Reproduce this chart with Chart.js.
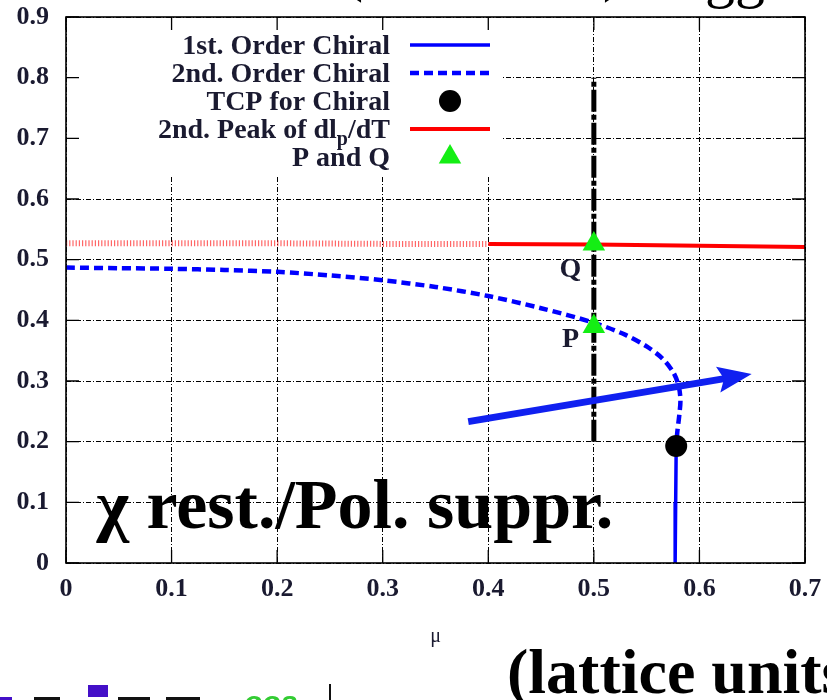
<!DOCTYPE html>
<html>
<head>
<meta charset="utf-8">
<script src="https://cdn.jsdelivr.net/npm/chart.js@4.4.1/dist/chart.umd.min.js"></script>
<style>
  html, body { margin: 0; padding: 0; background: #fff; overflow: hidden; }
  #wrap { position: relative; width: 827px; height: 700px; overflow: hidden; }
  #wrap canvas { position: absolute; left: 0; top: 0; }
  .frag { position: absolute; white-space: nowrap; }
  .title { font-family: 'Liberation Serif', serif; font-size: 60px; line-height: 60px; color: #000; }
</style>
</head>
<body>
<div id="wrap">
  <canvas id="phase" width="827" height="700"></canvas>
  <!-- slide title above the figure (only its lowest strokes fall inside the frame) -->
  <div class="frag title" style="left:172px; top:-61px; font-weight:bold;">Q</div>
  <div class="frag title" style="left:343px; top:-60px;">(</div>
  <div class="frag title" style="left:603px; top:-60px;">)</div>
  <div class="frag title" style="left:705px; top:-54px;">gg</div>
  <!-- slide footer -->
  <div class="frag" style="left:507px; top:640px; font:bold 64px 'Liberation Serif'; line-height:64px; color:#000;">(lattice units)</div>
  <!-- logo strip -->
  <div class="frag" style="left:88px; top:685px; width:20px; height:12px; background:#4410c8;"></div>
  <div class="frag" style="left:0px; top:697px; width:12px; height:6px; background:#4410c8;"></div>
  <div class="frag" style="left:34px; top:697px; width:26px; height:6px; background:#111;"></div>
  <div class="frag" style="left:118px; top:697px; width:32px; height:6px; background:#111;"></div>
  <div class="frag" style="left:166px; top:697px; width:34px; height:6px; background:#111;"></div>
  <div class="frag" style="left:244px; top:687px; font:italic bold 30px 'Liberation Sans'; line-height:30px; color:#33cc33;">oos</div>
  <div class="frag" style="left:329px; top:684px; width:2px; height:16px; background:#111;"></div>
</div>
<script>
// ---- axis ticks ----
const xTickValues = [0, 0.1, 0.2, 0.3, 0.4, 0.5, 0.6, 0.7];
const xTickLabels = ['0', '0.1', '0.2', '0.3', '0.4', '0.5', '0.6', '0.7'];
const yTickValues = [0, 0.1, 0.2, 0.3, 0.4, 0.5, 0.6, 0.7, 0.8, 0.9];
const yTickLabels = ['0', '0.1', '0.2', '0.3', '0.4', '0.5', '0.6', '0.7', '0.8', '0.9'];

// ---- phase boundaries (mu, T) ----
const firstOrderMu = [0.578, 0.5775, 0.577];
const firstOrderT  = [0.193, 0.100, 0.000];

const secondOrderMu = [0.000, 0.050, 0.100, 0.150, 0.200, 0.250, 0.300, 0.350, 0.400, 0.450,
                       0.500, 0.530, 0.550, 0.565, 0.575, 0.580, 0.582, 0.581, 0.579, 0.578];
const secondOrderT  = [0.487, 0.486, 0.485, 0.483, 0.480, 0.474, 0.466, 0.455, 0.440, 0.420,
                       0.396, 0.376, 0.357, 0.337, 0.315, 0.294, 0.270, 0.245, 0.215, 0.193];

const tcpMu = [0.578];
const tcpT  = [0.193];

// second peak of dl_p/dT: dotted below mu = 0.4, solid above
const peakDottedMu = [0.0, 0.1, 0.2, 0.3, 0.4];
const peakDottedT  = [0.527, 0.527, 0.527, 0.526, 0.526];
const peakSolidMu  = [0.4, 0.5, 0.6, 0.7];
const peakSolidT   = [0.526, 0.525, 0.523, 0.521];

// points P and Q on the mu = 0.5 line
const pqNames = ['P', 'Q'];
const pqMu    = [0.5, 0.5];
const pqT     = [0.390, 0.526];
const pqTextMu = [0.486, 0.488];
const pqTextT  = [0.356, 0.471];

// vertical scan line at mu = 0.5
const scanMu = [0.5, 0.5];
const scanT  = [0.2, 0.8];

// arrow crossing the boundary
const arrowMu = [0.381, 0.6495];
const arrowT  = [0.233, 0.3115];

const noteText = 'χ rest./Pol. suppr.';
const noteMu = 0.029;
const noteT  = 0.058;

const pts = (xs, ys) => xs.map((v, i) => ({ x: v, y: ys[i] }));

const SERIF = "'Liberation Serif', 'Times New Roman', serif";
const INK = '#1a1a30';
Chart.defaults.font.family = SERIF;

// gnuplot-like decorations: opaque key box, frame with inward ticks, key, labels, arrow
const decorations = {
  id: 'decorations',
  beforeDatasetsDraw(chart) {
    const { ctx, chartArea: a } = chart;
    ctx.save();
    ctx.fillStyle = '#fff';
    ctx.fillRect(a.left + 1, a.top + 1, 502 - a.left, 175 - a.top);
    ctx.restore();
  },
  afterDatasetsDraw(chart) {
    const { ctx, chartArea: a, scales: { x, y } } = chart;
    ctx.save();

    // frame
    ctx.strokeStyle = '#000';
    ctx.lineWidth = 1.6;
    ctx.setLineDash([]);
    ctx.strokeRect(a.left, a.top, a.right - a.left, a.bottom - a.top);

    // inward ticks on all four sides
    const tl = 13;
    ctx.lineWidth = 1.3;
    ctx.beginPath();
    xTickValues.forEach(v => {
      const px = x.getPixelForValue(v);
      ctx.moveTo(px, a.bottom); ctx.lineTo(px, a.bottom - tl);
      ctx.moveTo(px, a.top);    ctx.lineTo(px, a.top + tl);
    });
    yTickValues.forEach(v => {
      const py = y.getPixelForValue(v);
      ctx.moveTo(a.left, py);  ctx.lineTo(a.left + tl, py);
      ctx.moveTo(a.right, py); ctx.lineTo(a.right - tl, py);
    });
    ctx.stroke();

    // arrow
    const x0 = x.getPixelForValue(arrowMu[0]), y0 = y.getPixelForValue(arrowT[0]);
    const x1 = x.getPixelForValue(arrowMu[1]), y1 = y.getPixelForValue(arrowT[1]);
    const ang = Math.atan2(y1 - y0, x1 - x0);
    const c = Math.cos(ang), s = Math.sin(ang);
    const headLen = 34, headHalf = 13, notch = 6;
    const bx = x1 - headLen * c, by = y1 - headLen * s;
    ctx.strokeStyle = '#1020f0';
    ctx.fillStyle = '#1020f0';
    ctx.lineWidth = 7;
    ctx.lineCap = 'butt';
    ctx.beginPath();
    ctx.moveTo(x0, y0);
    ctx.lineTo(bx + (notch + 2) * c, by + (notch + 2) * s);
    ctx.stroke();
    ctx.beginPath();
    ctx.moveTo(x1, y1);
    ctx.lineTo(bx - headHalf * s, by + headHalf * c);
    ctx.lineTo(bx + notch * c, by + notch * s);
    ctx.lineTo(bx + headHalf * s, by - headHalf * c);
    ctx.closePath();
    ctx.fill();

    // P / Q labels
    ctx.fillStyle = INK;
    ctx.font = `bold 28px ${SERIF}`;
    ctx.textAlign = 'right';
    ctx.textBaseline = 'alphabetic';
    pqNames.forEach((n, i) => {
      ctx.fillText(n, x.getPixelForValue(pqTextMu[i]), y.getPixelForValue(pqTextT[i]));
    });

    // annotation text
    ctx.fillStyle = '#000';
    ctx.font = `bold 70px ${SERIF}`;
    ctx.textAlign = 'left';
    ctx.fillText(noteText, x.getPixelForValue(noteMu), y.getPixelForValue(noteT));

    // key
    const textRight = 390, sampleL = 410, sampleR = 490, sampleC = 450;
    const rowTop = 45, rowStep = 28;
    const keyFont = `bold 28px ${SERIF}`, subFont = `bold 20px ${SERIF}`;
    let row = 0;
    chart.data.datasets.forEach(ds => {
      if (!ds.label) return;
      const cy = rowTop + row * rowStep;
      const base = cy + 9;
      // label, "_x" marks a one-letter subscript
      const parts = [];
      const re = /_(.)/g;
      let last = 0, m;
      while ((m = re.exec(ds.label)) !== null) {
        parts.push({ t: ds.label.slice(last, m.index), sub: false });
        parts.push({ t: m[1], sub: true });
        last = m.index + 2;
      }
      parts.push({ t: ds.label.slice(last), sub: false });
      let total = 0;
      parts.forEach(p => { ctx.font = p.sub ? subFont : keyFont; p.w = ctx.measureText(p.t).width; total += p.w; });
      let cx = textRight - total;
      ctx.fillStyle = INK;
      ctx.textAlign = 'left';
      parts.forEach(p => {
        ctx.font = p.sub ? subFont : keyFont;
        ctx.fillText(p.t, cx, base + (p.sub ? 7 : 0));
        cx += p.w;
      });
      // sample
      if (ds.showLine !== false) {
        ctx.strokeStyle = ds.borderColor;
        ctx.lineWidth = ds.borderWidth;
        ctx.setLineDash(ds.borderDash || []);
        ctx.beginPath();
        ctx.moveTo(sampleL, cy); ctx.lineTo(sampleR, cy);
        ctx.stroke();
        ctx.setLineDash([]);
      } else {
        const r = ds.pointRadius;
        ctx.fillStyle = ds.backgroundColor;
        ctx.beginPath();
        if (ds.pointStyle === 'triangle') {
          ctx.moveTo(sampleC, cy - r);
          ctx.lineTo(sampleC + r * Math.sin(2 * Math.PI / 3), cy - r * Math.cos(2 * Math.PI / 3));
          ctx.lineTo(sampleC + r * Math.sin(4 * Math.PI / 3), cy - r * Math.cos(4 * Math.PI / 3));
          ctx.closePath();
        } else {
          ctx.arc(sampleC, cy, r, 0, Math.PI * 2);
        }
        ctx.fill();
      }
      row++;
    });
    ctx.restore();
  }
};

new Chart(document.getElementById('phase'), {
  type: 'line',
  data: {
    datasets: [
      { label: '1st. Order Chiral', data: pts(firstOrderMu, firstOrderT),
        borderColor: '#0000ff', borderWidth: 3.5, pointRadius: 0, showLine: true, order: 2 },
      { label: '2nd. Order Chiral', data: pts(secondOrderMu, secondOrderT),
        borderColor: '#0000ff', borderWidth: 4.5, borderDash: [9, 5], pointRadius: 0,
        showLine: true, tension: 0.3, order: 2 },
      { label: 'TCP for Chiral', data: pts(tcpMu, tcpT), showLine: false,
        pointStyle: 'circle', pointRadius: 11, backgroundColor: '#000', borderColor: '#000',
        borderWidth: 0, order: 1 },
      { label: '2nd. Peak of dl_p/dT', data: pts(peakSolidMu, peakSolidT),
        borderColor: '#ff0000', borderWidth: 4, pointRadius: 0, showLine: true, order: 4 },
      { label: 'P and Q', data: pts(pqMu, pqT), showLine: false,
        pointStyle: 'triangle', pointRadius: 13, backgroundColor: '#14ee14', borderColor: '#14ee14',
        borderWidth: 0, order: 0 },
      { data: pts(peakDottedMu, peakDottedT), borderColor: 'rgba(255,0,0,0.6)',
        borderWidth: 6, borderDash: [1.2, 2], pointRadius: 0, showLine: true, order: 4 },
      { data: pts(scanMu, scanT), borderColor: '#000', borderWidth: 5,
        borderDash: [22, 3, 5, 3], pointRadius: 0, showLine: true, order: 3 }
    ]
  },
  options: {
    responsive: false,
    animation: false,
    events: [],
    devicePixelRatio: 1,
    layout: { autoPadding: false, padding: { top: 17, right: 22, left: 0, bottom: 0 } },
    plugins: { legend: { display: false }, tooltip: { enabled: false } },
    scales: {
      x: {
        type: 'linear', min: 0, max: 0.7,
        afterBuildTicks: s => { s.ticks = xTickValues.map(v => ({ value: v })); },
        afterFit: s => { s.height = 137; s.paddingLeft = 0; s.paddingRight = 0; },
        ticks: { autoSkip: false, maxRotation: 0, padding: 11, color: INK,
                 font: { size: 26, weight: 'bold' }, callback: (v, i) => xTickLabels[i] },
        grid: { color: '#000', lineWidth: 1, drawTicks: false },
        border: { display: false, dash: [5, 2, 1, 2] },
        title: { display: true, text: 'μ', color: INK, font: { size: 20 },
                 padding: { top: 0, bottom: 51 } }
      },
      y: {
        type: 'linear', min: 0, max: 0.9,
        afterBuildTicks: s => { s.ticks = yTickValues.map(v => ({ value: v })); },
        afterFit: s => { s.width = 66; s.paddingTop = 0; s.paddingBottom = 0; },
        ticks: { autoSkip: false, padding: 17, color: INK,
                 font: { size: 26, weight: 'bold' }, callback: (v, i) => yTickLabels[i] },
        grid: { color: '#000', lineWidth: 1, drawTicks: false },
        border: { display: false, dash: [5, 2, 1, 2] }
      }
    }
  },
  plugins: [decorations]
});
</script>
</body>
</html>
